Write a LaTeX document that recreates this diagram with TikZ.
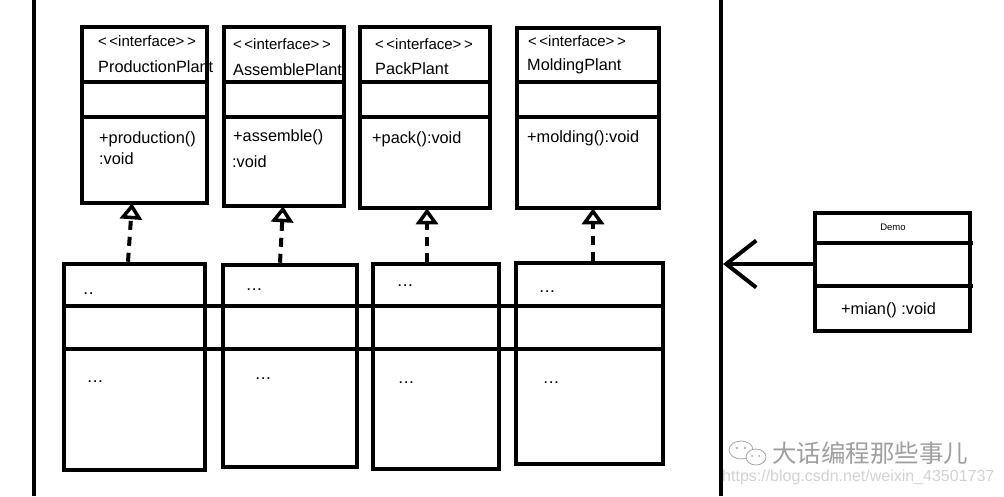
\documentclass[tikz,border=0pt]{standalone}
\usepackage{fontspec}
\setmainfont{Liberation Sans}
\newfontfamily\cjk{Noto Sans CJK SC}
\usetikzlibrary{arrows.meta,calc}
\begin{document}
\begin{tikzpicture}[x=1pt,y=-1pt,
  umlbox/.style={draw=black,line width=4.5pt,inner sep=0pt,minimum width=#1},
  divider/.style={line width=4.5pt},
  txt/.style={anchor=west,inner sep=0pt,font=\fontsize{16.3}{18}\selectfont},
  stereo/.style={anchor=west,inner sep=0pt,font=\fontsize{15}{17}\selectfont},
  dots/.style={anchor=west,inner sep=0pt,font=\fontsize{12}{14}\selectfont\bfseries},
  realize/.style={line width=4pt,dash pattern=on 9pt off 7pt,-{Triangle[open,length=16pt,width=22pt,line width=3.5pt]}},
  wall/.style={line width=4.5pt}]
\useasboundingbox (0,0) rectangle (1004,496);
\fill[white] (0,0) rectangle (1004,496);
% walls
\coordinate (lt) at (34,0); \coordinate (lb) at (34,496);
\coordinate (rt) at (721,0); \coordinate (rb) at (721,496);
\draw[wall] (lt) -- (lb);
\draw[wall] (rt) -- (rb);
% interfaces
\node[umlbox=125pt,minimum height=176pt] (p1) at (144.5,115) {};
\node[umlbox=120pt,minimum height=179pt] (p2) at (284,116.5) {};
\node[umlbox=130pt,minimum height=181pt] (p3) at (425,117.5) {};
\node[umlbox=142pt,minimum height=180pt] (p4) at (588,118) {};
\foreach \b in {p1,p2,p3,p4}{
  \draw[divider] (\b.west |- 0,82) -- (\b.east |- 0,82);
  \draw[divider] (\b.west |- 0,117) -- (\b.east |- 0,117);
}
\node[stereo] (s1) at (98,41) {<\,<interface>\,>};
\node[txt] (n1) at (98,67) {ProductionPlant};
\node[txt] (m1) at (99,139) {+production()};
\node[txt] (v1) at (99,159) {:void};
\node[stereo] (s2) at (233,44) {<\,<interface>\,>};
\node[txt] (n2) at (233,70) {AssemblePlant};
\node[txt] (m2) at (233,137) {+assemble()};
\node[txt] (v2) at (232,162) {:void};
\node[stereo] (s3) at (375,44) {<\,<interface>\,>};
\node[txt] (n3) at (375,69) {PackPlant};
\node[txt] (m3) at (372,139) {+pack():void};
\node[stereo] (s4) at (528,41) {<\,<interface>\,>};
\node[txt] (n4) at (527,66) {MoldingPlant};
\node[txt] (m4) at (527,138) {+molding():void};
% implementations
\node[umlbox=141pt,minimum height=206pt] (l1) at (134.5,367) {};
\node[umlbox=134pt,minimum height=202pt] (l2) at (290,366) {};
\node[umlbox=126pt,minimum height=205pt] (l3) at (436,366.5) {};
\node[umlbox=147pt,minimum height=201pt] (l4) at (589.5,363.5) {};
\draw[divider] (64,306) -- (663,306);
\draw[divider] (62,349) -- (665,349);
\node[dots] (a1) at (84,294) {.\,.};
\node[dots] (b1) at (88,382) {.\,.\,.};
\node[dots] (a2) at (247,290) {.\,.\,.};
\node[dots] (b2) at (256,379) {.\,.\,.};
\node[dots] (a3) at (398,286) {.\,.\,.};
\node[dots] (b3) at (399,383) {.\,.\,.};
\node[dots] (a4) at (540,292) {.\,.\,.};
\node[dots] (b4) at (544,383) {.\,.\,.};
% realizations
\draw[realize] ([xshift=-6.5pt]l1.north) -- ([xshift=-12.5pt,yshift=2pt]p1.south);
\draw[realize] ([xshift=-10pt]l2.north) -- ([xshift=-1pt,yshift=2pt]p2.south);
\draw[realize] ([xshift=-9pt]l3.north) -- ([xshift=2pt,yshift=2pt]p3.south);
\draw[realize] ([xshift=3.5pt]l4.north) -- ([xshift=5pt,yshift=2pt]p4.south);
% Demo
\node[umlbox=155pt,minimum height=118pt] (demo) at (892.5,272) {};
\draw[divider] (demo.west |- 0,243) -- (973,243);
\draw[divider] (demo.west |- 0,286) -- (973,286);
\node[inner sep=0pt,font=\fontsize{9.5}{10}\selectfont] (dt) at (893,227) {Demo};
\node[txt] (dm) at (841,310) {+mian() :void};
\coordinate (tip) at (723,264);
\draw[line width=4pt,-{Straight Barb[length=30pt,width=47pt,line width=4pt]}] (demo.west |- tip) -- (tip);
% watermark
\begin{scope}[draw=gray!70,line width=0.8pt]
\draw (741,450) ellipse (12pt and 9pt);
\draw[fill=white] (756,457) ellipse (10pt and 8pt);
\fill[gray!70] (737,448) circle (1.2pt) (745,448) circle (1.2pt) (752,456) circle (1pt) (759,456) circle (1pt);
\end{scope}
\node[anchor=west,inner sep=0pt,text=gray!75,font=\cjk\fontsize{24.5}{26}\selectfont] (wm) at (772,453) {大话编程那些事儿};
\node[anchor=west,inner sep=0pt,text=gray!35,font=\fontsize{16}{18}\selectfont] (url) at (722,477) {https://blog.csdn.net/weixin\_43501737};
\end{tikzpicture}
\end{document}
